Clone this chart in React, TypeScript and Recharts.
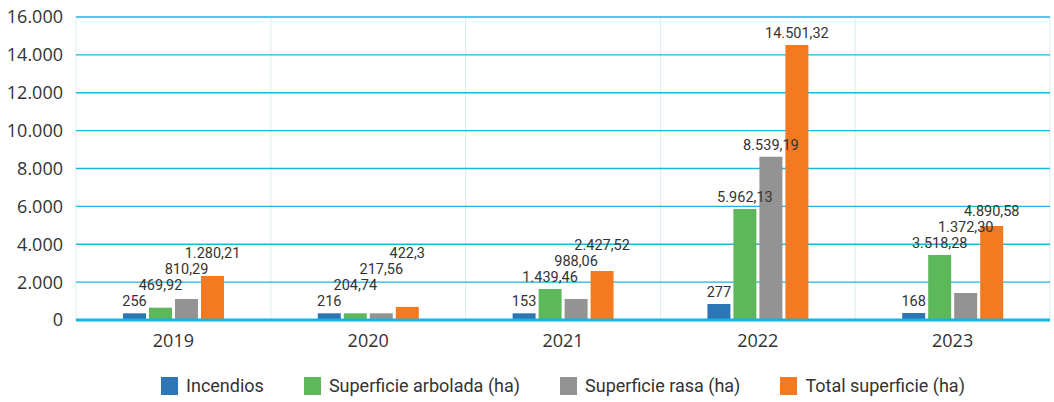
import { Bar, BarChart, CartesianGrid, Legend, XAxis, YAxis } from "recharts"

const years = ["2019", "2020", "2021", "2022", "2023"]

// bar heights as drawn in the picture
const incendios = [354, 354, 354, 845, 370]
const arbolada = [650, 354, 1635, 5860, 3430]
const rasa = [1110, 354, 1110, 8625, 1425]
const total = [2320, 690, 2590, 14520, 4960]

// printed value labels
const incendiosLabels = ["256", "216", "153", "277", "168"]
const arboladaLabels = ["469,92", "204,74", "1.439,46", "5.962,13", "3.518,28"]
const rasaLabels = ["810,29", "217,56", "988,06", "8.539,19", "1.372,30"]
const totalLabels = ["1.280,21", "422,3", "2.427,52", "14.501,32", "4.890,58"]

const yTicks = [0, 2000, 4000, 6000, 8000, 10000, 12000, 14000, 16000]

const series = [
  { key: "incendios", name: "Incendios", color: "#2e75b6", labels: incendiosLabels },
  { key: "arbolada", name: "Superficie arbolada (ha)", color: "#5cb85a", labels: arboladaLabels },
  { key: "rasa", name: "Superficie rasa (ha)", color: "#939393", labels: rasaLabels },
  { key: "total", name: "Total superficie (ha)", color: "#f47a22", labels: totalLabels },
]

const rows = years.map((year, i) => ({
  year,
  incendios: incendios[i],
  arbolada: arbolada[i],
  rasa: rasa[i],
  total: total[i],
}))

const narrow = "Roboto, sans-serif"
const sans = "'Open Sans', 'Noto Sans', sans-serif"

const fmt = (v: number) => String(v).replace(/\B(?=(\d{3})+(?!\d))/g, ".")

// labels stack upwards so neighbours in a group never collide
function makeLabel(k: number) {
  return (props: any) => {
    const { x, y, width, height, value, index } = props
    if (!value) return null
    const bottom = Number(y) + Number(height)
    const ppu = Number(height) / Number(value)
    const row: any = rows[index]
    let ly = Infinity
    for (let j = 0; j <= k; j++) {
      const top = bottom - row[series[j].key] * ppu
      ly = Math.min(top - 7, ly - 16)
    }
    return (
      <text
        x={Number(x) + Number(width) / 2}
        y={ly}
        textAnchor="middle"
        fontFamily={narrow}
        fontSize={14.5}
        fill="#333333"
      >
        {series[k].labels[index]}
      </text>
    )
  }
}

function LegendContent() {
  return (
    <div style={{ display: "flex", justifyContent: "center", fontFamily: narrow, fontSize: 18, color: "#333333" }}>
      {series.map((s) => (
        <div key={s.key} style={{ display: "flex", alignItems: "center", margin: "0 20px" }}>
          <span style={{ width: 17, height: 18, background: s.color, marginRight: 8, display: "inline-block" }} />
          <span>{s.name}</span>
        </div>
      ))}
    </div>
  )
}

export default function App() {
  return (
    <div style={{ position: "absolute", left: 0, top: 0, background: "#fff" }}>
      <BarChart
        width={1054}
        height={402}
        data={rows}
        margin={{ top: 17, right: 4, left: 0, bottom: 52 }}
        barCategoryGap="24%"
        barGap={3}
      >
        <CartesianGrid
          stroke="#dcebf0"
          strokeWidth={1}
          horizontal={false}
          verticalCoordinatesGenerator={({ offset }: any) =>
            years.map((_, i) => offset.left + (i * offset.width) / years.length).concat([offset.left + offset.width])
          }
        />
        <CartesianGrid stroke="#1cb5e0" strokeWidth={1.3} vertical={false} />
        <XAxis
          dataKey="year"
          tickLine={false}
          axisLine={{ stroke: "#13b3e3", strokeWidth: 3 }}
          tick={{ fill: "#333333", fontSize: 18, fontFamily: sans }}
          tickMargin={8}
          height={30}
        />
        <YAxis
          width={76}
          domain={[0, 16000]}
          ticks={yTicks}
          interval={0}
          tickLine={false}
          axisLine={false}
          tickFormatter={fmt}
          tick={{ fill: "#333333", fontSize: 18, fontFamily: sans }}
          tickMargin={7}
        />
        <Legend
          layout="horizontal"
          verticalAlign="middle"
          align="center"
          content={<LegendContent />}
          wrapperStyle={{ top: 375, left: 76, width: 974 }}
        />
        {series.map((s, k) => (
          <Bar
            key={s.key}
            dataKey={s.key}
            name={s.name}
            fill={s.color}
            barSize={23}
            isAnimationActive={false}
            label={makeLabel(k)}
          />
        ))}
      </BarChart>
    </div>
  )
}
